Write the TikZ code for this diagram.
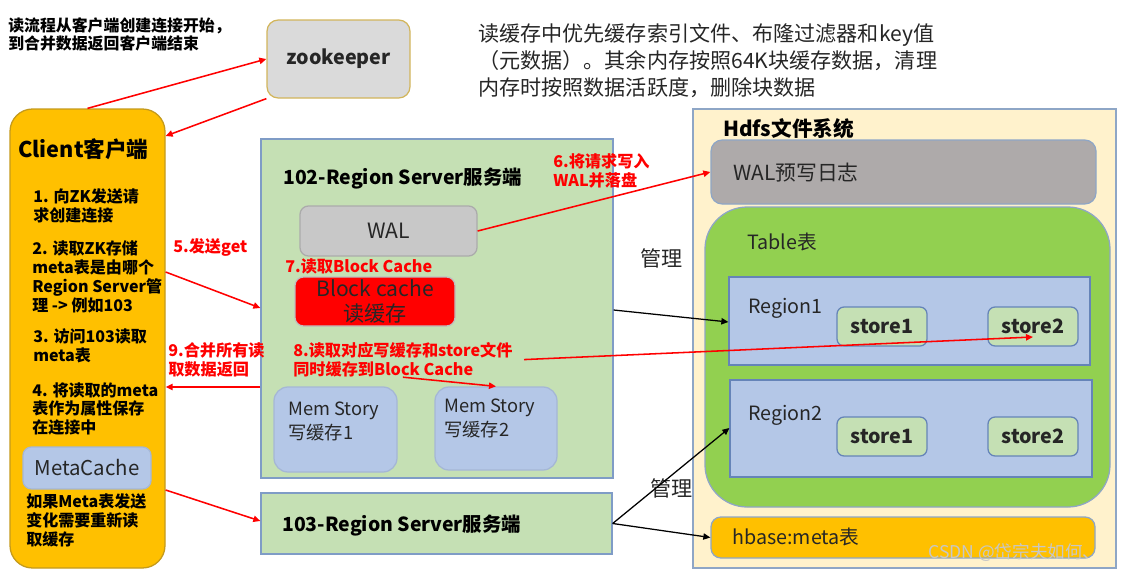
\documentclass[tikz,border=0pt]{standalone}
\usepackage{fontspec}
\setmainfont{Noto Sans CJK SC}
\usepackage{tikz}
\usetikzlibrary{fit,arrows.meta}
\definecolor{gold}{HTML}{FFC000}
\definecolor{goldline}{HTML}{C49A1C}
\definecolor{zkfill}{HTML}{DADADA}
\definecolor{zkline}{HTML}{D2B55B}
\definecolor{greenbox}{HTML}{C5E0B4}
\definecolor{serverline}{HTML}{7F9CC6}
\definecolor{walgray}{HTML}{C8C8C8}
\definecolor{walline}{HTML}{ABABAB}
\definecolor{bluebox}{HTML}{B4C7E7}
\definecolor{lightline}{HTML}{A5B7D6}
\definecolor{hdfsfill}{HTML}{FFF2CC}
\definecolor{hdfsline}{HTML}{8EA6C6}
\definecolor{loggray}{HTML}{AEAAAA}
\definecolor{tablegreen}{HTML}{92D050}
\definecolor{regionline}{HTML}{6584B8}
\definecolor{darktext}{HTML}{262626}
\newcommand\setfs[2]{\fontsize{#1}{#2}\selectfont}
\tikzset{
  box/.style={draw=#1, line width=0.9pt, inner sep=0pt},
  txt/.style={anchor=north west, inner sep=0pt, align=left},
  clienttxt/.style={txt, font=\bfseries\setfs{11.4}{13.5}},
  redtxt/.style={txt, text=red, font=\bfseries\setfs{11.5}{13.5}},
  storetxt/.style={font=\bfseries\setfs{14}{16}, text=darktext},
  redarrow/.style={draw=red, line width=1.1pt, -{Triangle[length=5pt,width=4.5pt]}},
  blkarrow/.style={draw=black, line width=0.9pt, -{Triangle[length=5pt,width=4.5pt]}},
}

\begin{document}
\begin{tikzpicture}[x=0.025cm, y=-0.025cm]
    \useasboundingbox (0,0) rectangle (1121,572);

    \node[txt, font=\bfseries\setfs{11.3}{12.8}] (readflow) at (8,17) {读流程从客户端创建连接开始，\\到合并数据返回客户端结束};
    \node[txt, text=darktext, font=\setfs{15}{19.2}] (cachenote) at (478,23) {读缓存中优先缓存索引文件、布隆过滤器和key值\\（元数据）。其余内存按照64K块缓存数据，清理\\内存时按照数据活跃度，删除块数据};

    \node[box=zkline, fill=zkfill, rounded corners=8pt, fit={(267,20)(410,98)}] (zk) {};
    \node[font=\bfseries\setfs{14}{16}, text=darktext] (zktxt) at (zk.center) {zookeeper};

    \node[box=goldline, fill=gold, rounded corners=16pt, fit={(10,109)(165,568)}] (client) {};
    \node[txt, font=\bfseries\setfs{15.4}{18}] (clienttitle) at (18,138) {Client客户端};
    \node[clienttxt] (step1) at (33,188) {1. 向ZK发送请\\求创建连接};
    \node[clienttxt] (step2) at (32,240) {2. 读取ZK存储\\meta表是由哪个\\Region Server管\\理 -> 例如103};
    \node[clienttxt] (step3) at (33,328) {3. 访问103读取\\meta表};
    \node[clienttxt] (step4) at (32,382) {4. 将读取的meta\\表作为属性保存\\在连接中};
    \node[box=lightline, fill=bluebox, rounded corners=6pt, fit={(23,447)(151,489)}] (metacache) {};
    \node[font=\setfs{14.5}{16}, text=darktext] (metacachetxt) at (metacache.center) {MetaCache};
    \node[clienttxt] (refresh) at (26,493) {如果Meta表发送\\变化需要重新读\\取缓存};

    \node[box=serverline, fill=greenbox, fit={(261,139)(613,478)}] (rs102) {};
    \node[txt, font=\bfseries\setfs{13.8}{16}] (rs102title) at (283,168) {102-Region Server服务端};
    \node[box=walline, fill=walgray, rounded corners=6pt, fit={(300,206)(477,256)}] (wal) {};
    \node[font=\setfs{15}{17}, text=darktext] (waltxt) at (wal.center) {WAL};
    \node[redtxt] (step7) at (285,258) {7.读取Block Cache};
    \node[box=black!25, fill=red, rounded corners=6pt, fit={(295,277)(455,326)}] (blockcache) {};
    \node[align=center, font=\setfs{15}{18}, text=darktext] (blockcachetxt) at (blockcache.center) {Block cache\\读缓存};
    \node[redtxt] (step8) at (293,342) {8.读取对应写缓存和store文件\\同时缓存到Block Cache};
    \node[box=lightline, fill=bluebox, rounded corners=10pt, fit={(274,387)(397,472)}] (mem1) {};
    \node[txt, text=darktext, font=\setfs{13}{16.5}] (mem1txt) at (288,402) {Mem Story\\写缓存1};
    \node[box=lightline, fill=bluebox, rounded corners=10pt, fit={(435,387)(557,470)}] (mem2) {};
    \node[txt, text=darktext, font=\setfs{13}{16.5}] (mem2txt) at (444,399) {Mem Story\\写缓存2};

    \node[box=serverline, fill=greenbox, fit={(261,493)(612,554)}] (rs103) {};
    \node[txt, font=\bfseries\setfs{13.8}{16}] (rs103title) at (282,515) {103-Region Server服务端};

    \node[box=hdfsline, fill=hdfsfill, fit={(693,109)(1116,568)}] (hdfs) {};
    \node[txt, font=\bfseries\setfs{14.7}{17}] (hdfstitle) at (723,118) {Hdfs文件系统};
    \node[box=hdfsline, fill=loggray, rounded corners=8pt, fit={(711,140)(1096,204)}] (hwal) {};
    \node[txt, text=darktext, font=\setfs{14.8}{17}] (hwaltxt) at (733,163) {WAL预写日志};
    \node[box=hdfsline, fill=tablegreen, rounded corners=30pt, fit={(705,207)(1110,507)}] (table) {};
    \node[txt, text=darktext, font=\setfs{14}{16}] (tabletxt) at (747,233) {Table表};
    \node[box=regionline, fill=bluebox, fit={(729,277)(1090,365)}] (r1) {};
    \node[txt, text=darktext, font=\setfs{14}{16}] (r1txt) at (748,298) {Region1};
    \node[box=regionline, fill=greenbox, rounded corners=5pt, fit={(837,307)(927,346)}] (r1s1) {};
    \node[storetxt] (r1s1txt) at (r1s1.center) {store1};
    \node[box=regionline, fill=greenbox, rounded corners=5pt, fit={(988,307)(1078,346)}] (r1s2) {};
    \node[storetxt] (r1s2txt) at (r1s2.center) {store2};
    \node[box=regionline, fill=bluebox, fit={(730,380)(1092,477)}] (r2) {};
    \node[txt, text=darktext, font=\setfs{14}{16}] (r2txt) at (748,405) {Region2};
    \node[box=regionline, fill=greenbox, rounded corners=5pt, fit={(837,417)(927,456)}] (r2s1) {};
    \node[storetxt] (r2s1txt) at (r2s1.center) {store1};
    \node[box=regionline, fill=greenbox, rounded corners=5pt, fit={(988,417)(1078,456)}] (r2s2) {};
    \node[storetxt] (r2s2txt) at (r2s2.center) {store2};
    \node[box=hdfsline, fill=gold, rounded corners=7pt, fit={(711,517)(1095,558)}] (meta) {};
    \node[txt, text=darktext, font=\setfs{14}{16}] (metatxt) at (732,528) {hbase:meta表};
    \node[txt, text=black!22, font=\setfs{12.5}{14}] (mark) at (928,543) {CSDN @岱宗夫如何、};

    \node[txt, text=darktext, font=\setfs{15}{17}] (manage1) at (640,248) {管理};
    \node[txt, text=darktext, font=\setfs{15}{17}] (manage2) at (650,478) {管理};
    \node[redtxt] (step5) at (173,238) {5.发送get};
    \node[redtxt] (step9) at (168,342) {9.合并所有读\\取数据返回};
    \node[redtxt] (step6) at (553,153) {6.将请求写入\\WAL并落盘};

    \draw[redarrow] (client.north) -- (zk.west);
    \draw[redarrow] (zk.south west) -- (client.east |- 0,136);
    \draw[redarrow] (client.east |- 0,272) -- (rs102.west |- 0,308);
    \draw[redarrow] (rs102.west |- 0,387) -- (client.east |- 0,387);
    \draw[redarrow] (client.east |- 0,490) -- (rs103.west |- 0,521);
    \draw[redarrow] (wal.east) -- (hwal.west);
    \draw[redarrow] ([xshift=8pt]step8.east) -- (r1s2.center |- 0,337);
    \draw[redarrow] (step8.south) -- (mem2.north);
    \draw[blkarrow] (rs102.east |- 0,310) -- (r1.west |- 0,322);
    \draw[blkarrow] (rs103.east) -- (r2.west |- 0,428);
    \draw[blkarrow] (rs103.east) -- (meta.west);
\end{tikzpicture}
\end{document}
